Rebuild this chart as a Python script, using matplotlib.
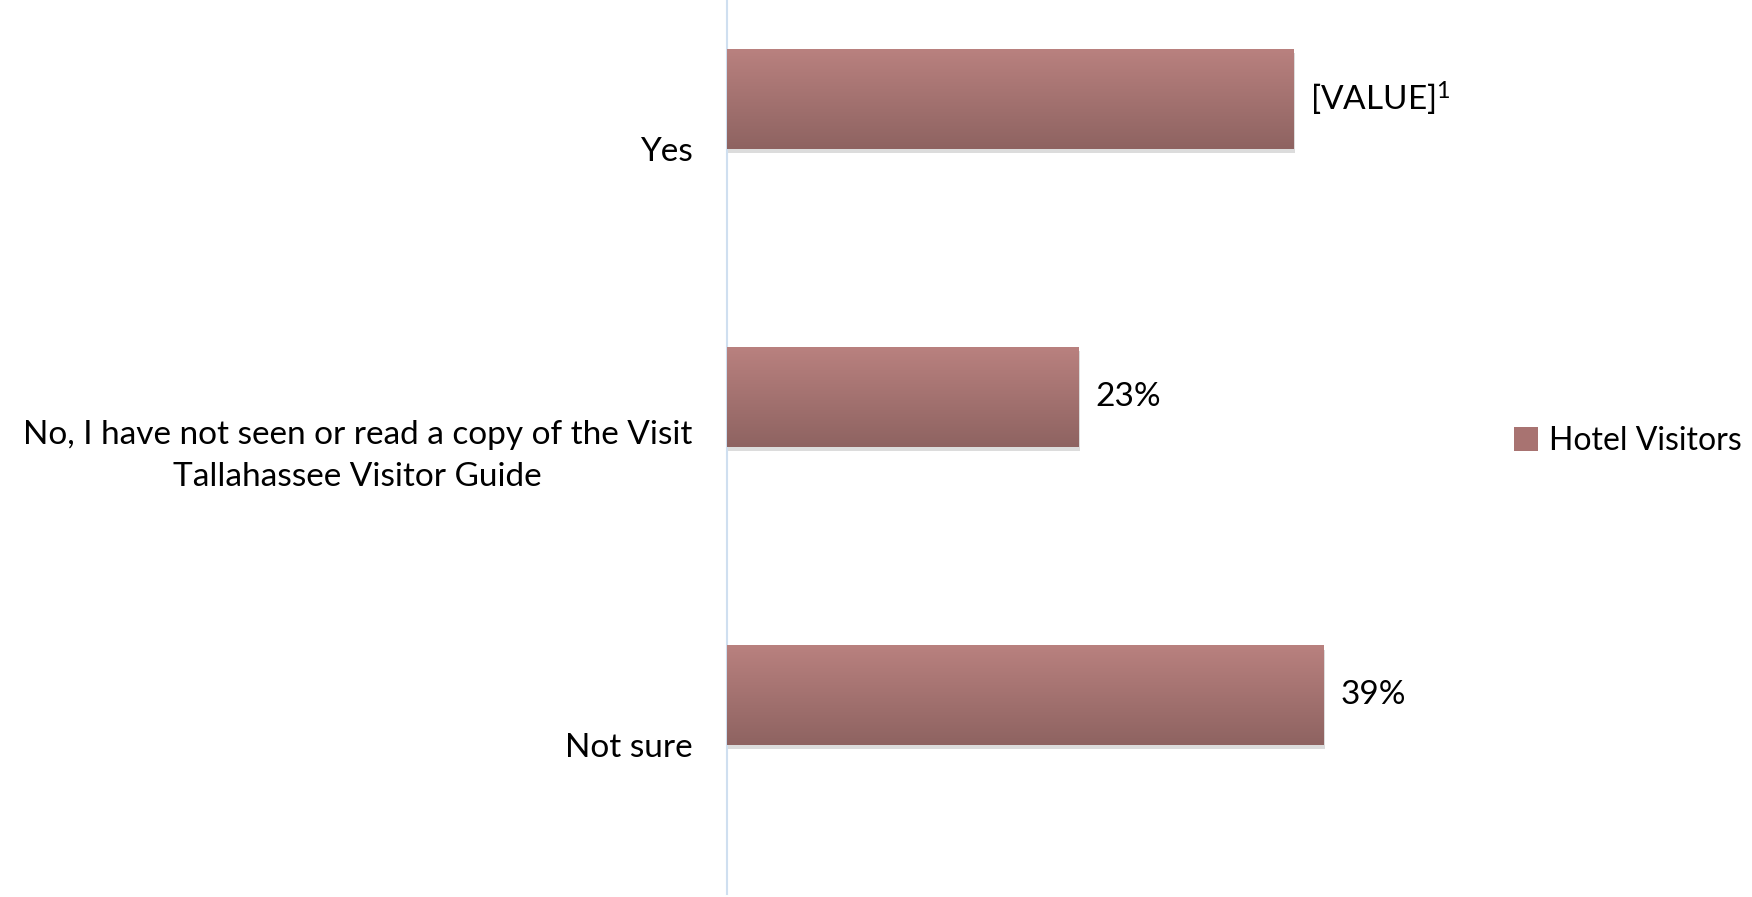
import numpy as np
import matplotlib
matplotlib.use("Agg")
import matplotlib.pyplot as plt
from matplotlib import patheffects
from matplotlib.colors import LinearSegmentedColormap
from matplotlib.patches import Patch

plt.rcParams["font.family"] = ["Lato", "DejaVu Sans"]
plt.rcParams["mathtext.fontset"] = "custom"
plt.rcParams["mathtext.rm"] = "Lato"
plt.rcParams["mathtext.it"] = "Lato"

categories = ["Yes",
              "No, I have not seen or read a copy of the Visit\nTallahassee Visitor Guide",
              "Not sure"]
hotel_visitors = [0.37, 0.23, 0.39]
value_labels = ["[VALUE]$^{1}$", "23%", "39%"]
series_name = "Hotel Visitors"

top_color = "#b9817f"
bottom_color = "#8e6361"
grad = LinearSegmentedColormap.from_list("bar_grad", [top_color, bottom_color])
fs = 24

fig = plt.figure(figsize=(17.52, 8.97), dpi=100)
ax = fig.add_axes([0.415, 0.003, 0.4366, 0.997])

y = np.arange(len(categories))
h = 0.335
# first of two slots in each category band
pos = y - h / 2

bars = ax.barh(pos, hotel_visitors, height=h, color="#a47270", zorder=2,
               path_effects=[patheffects.SimplePatchShadow(offset=(1, -3), shadow_rgbFace="#777777", alpha=0.25),
                             patheffects.Normal()])

# vertical gradient on each bar
g = np.linspace(0, 1, 256).reshape(-1, 1)
for b in bars:
    x0, y0 = b.get_x(), b.get_y()
    w, hh = b.get_width(), b.get_height()
    im = ax.imshow(g, cmap=grad, aspect="auto", extent=(x0, x0 + w, y0 + hh, y0),
                   zorder=3, interpolation="bilinear")
    im.set_clip_path(b)

for b, lab in zip(bars, value_labels):
    ax.annotate(lab, (b.get_width(), b.get_y() + b.get_height() / 2),
                xytext=(12, 0), textcoords="offset points",
                ha="left", va="center", fontsize=fs, color="#000000")

ax.set_xlim(0, 0.5)
ax.set_ylim(2.5, -0.5)
ax.set_yticks(y)
ax.set_yticklabels(categories, fontsize=fs)
for t in ax.get_yticklabels():
    t.set_multialignment("center")
    t.set_linespacing(1.5)
ax.tick_params(axis="y", length=0, pad=25)
ax.set_xticks([])

for s in ["top", "right", "bottom"]:
    ax.spines[s].set_visible(False)
ax.spines["left"].set_color("#cfdff0")
ax.spines["left"].set_linewidth(1.5)

handle = Patch(facecolor="#a87371", edgecolor="none")
fig.legend([handle], [series_name], loc="center left", bbox_to_anchor=(0.864, 0.508),
           frameon=False, fontsize=23, handlelength=0.75, handleheight=0.75,
           handletextpad=0.35, borderaxespad=0, borderpad=0)

fig.savefig("out.png", dpi=100)
